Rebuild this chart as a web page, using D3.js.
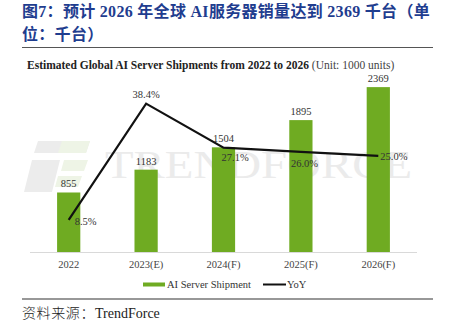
<!DOCTYPE html>
<html><head><meta charset="utf-8">
<script src="https://cdn.jsdelivr.net/npm/d3@7/dist/d3.min.js"></script>
<style>body{margin:0;background:#fff}svg{display:block}</style>
</head><body><svg id="c" width="449" height="331"></svg>
<script>
const categories = ["2022","2023(E)","2024(F)","2025(F)","2026(F)"];
const shipments = [855,1183,1504,1895,2369];
const yoy = [8.5,38.4,27.1,26.0,25.0];
const titleLines = ["图7：预计 2026 年全球 AI服务器销量达到 2369 千台（单","位：千台）"];
const chartTitleBold = "Estimated Global AI Server Shipments from 2022 to 2026";
const chartTitleNormal = " (Unit: 1000 units)";
const legendLabels = ["AI Server Shipment","YoY"];
const sourceLabel = "资料来源：";
const sourceName = "TrendForce";

const svg = d3.select("#c");
const serif = "'Liberation Serif','DejaVu Serif','Noto Sans CJK SC',serif";
const green = "#6fab22";

// Header
svg.selectAll("text.t").data(titleLines).join("text")
  .attr("x",22).attr("y",(d,i)=>17+i*23)
  .attr("font-family",serif).attr("font-weight","bold").attr("font-size",16)
  .attr("letter-spacing",0.3)
  .attr("fill","#1f3d8f").text(d=>d);
svg.append("line").attr("x1",22).attr("x2",433).attr("y1",47.5).attr("y2",47.5)
  .attr("stroke","#555").attr("stroke-width",1.2);

// chart title
const ct = svg.append("text").attr("x",27).attr("y",69).attr("font-family",serif)
  .attr("font-size",11.5).attr("fill","#222");
ct.append("tspan").attr("font-weight","bold").text(chartTitleBold);
ct.append("tspan").attr("fill","#444").text(chartTitleNormal);

// watermark
const wm = svg.append("g");
wm.append("path").attr("d","M38,141 L90,141 L86,153 L34,153 Z").attr("fill","#ececec");
wm.append("path").attr("d","M62,141 L90,141 L86,153 L58,153 Z").attr("fill","#eef4e6");
wm.append("path").attr("d","M32,160 L60,160 L52,192 L24,192 Z").attr("fill","#ececec");
wm.append("path").attr("d","M64,160 L88,160 L84,171 L61,171 Z").attr("fill","#eef4e6");
wm.append("path").attr("d","M58,176 L82,176 L78,187 L55,187 Z").attr("fill","#eef4e6");
wm.append("text").attr("x",105).attr("y",178).attr("font-family",serif)
  .attr("font-size",41).attr("fill","#ebebeb").attr("textLength",307)
  .attr("lengthAdjust","spacingAndGlyphs").text("TRENDFORCE");

// scales
const x = d3.scaleBand().domain(categories).range([30,417]).paddingInner(0.7).paddingOuter(0.35);
const y = d3.scaleLinear().domain([0,2500]).range([252,78]);
const y2 = d3.scaleLinear().domain([0,45]).range([253,78]);

// bars
svg.selectAll("rect.bar").data(shipments).join("rect")
  .attr("x",(d,i)=>x(categories[i])).attr("width",x.bandwidth())
  .attr("y",d=>y(d)).attr("height",d=>y(0)-y(d)).attr("fill",green);

// x axis
const xa = svg.append("g").attr("transform","translate(0,252)")
  .call(d3.axisBottom(x).tickSize(0).tickPadding(9));
xa.select(".domain").attr("stroke","#d9d9d9").attr("d","M30,0.5H417");
xa.selectAll("text").attr("font-family",serif).attr("font-size",10.5).attr("fill","#444");

// bar value labels
svg.selectAll("text.bv").data(shipments).join("text")
  .attr("x",(d,i)=>x(categories[i])+x.bandwidth()/2).attr("y",d=>y(d)-5)
  .attr("text-anchor","middle").attr("font-family",serif).attr("font-size",10.5)
  .attr("fill","#333").text(d=>d);

// line
const cx = i => x(categories[i])+x.bandwidth()/2;
svg.append("path").datum(yoy)
  .attr("d",d3.line().x((d,i)=>cx(i)).y(d=>y2(d)))
  .attr("fill","none").attr("stroke","#111").attr("stroke-width",2.2);

const off = [[6,5,"start"],[0,-6,"middle"],[-2,13,"start"],[-10,15,"start"],[2,4,"start"]];
svg.selectAll("text.yv").data(yoy).join("text")
  .attr("x",(d,i)=>cx(i)+off[i][0]).attr("y",(d,i)=>y2(d)+off[i][1])
  .attr("text-anchor",(d,i)=>off[i][2]).attr("font-family",serif).attr("font-size",10.5)
  .attr("fill","#333").text(d=>d.toFixed(1)+"%");

// legend
const lg = svg.append("g");
lg.append("rect").attr("x",143).attr("y",282.5).attr("width",22).attr("height",4).attr("fill",green);
lg.append("text").attr("x",167).attr("y",288).attr("font-family",serif).attr("font-size",10.5)
  .attr("fill","#333").text(legendLabels[0]);
lg.append("line").attr("x1",263).attr("x2",286).attr("y1",284.5).attr("y2",284.5)
  .attr("stroke","#111").attr("stroke-width",2);
lg.append("text").attr("x",287).attr("y",288).attr("font-family",serif).attr("font-size",10.5)
  .attr("fill","#333").text(legendLabels[1]);

// footer
svg.append("line").attr("x1",22).attr("x2",433).attr("y1",299).attr("y2",299)
  .attr("stroke","#333").attr("stroke-width",1.2);
const st = svg.append("text").attr("x",22).attr("y",318).attr("font-size",14).attr("fill","#222");
st.append("tspan").attr("font-family","'Noto Sans CJK SC',sans-serif").attr("font-weight",300)
  .attr("letter-spacing",0.6).text(sourceLabel);
st.append("tspan").attr("font-family",serif).text(sourceName);
</script></body></html>
